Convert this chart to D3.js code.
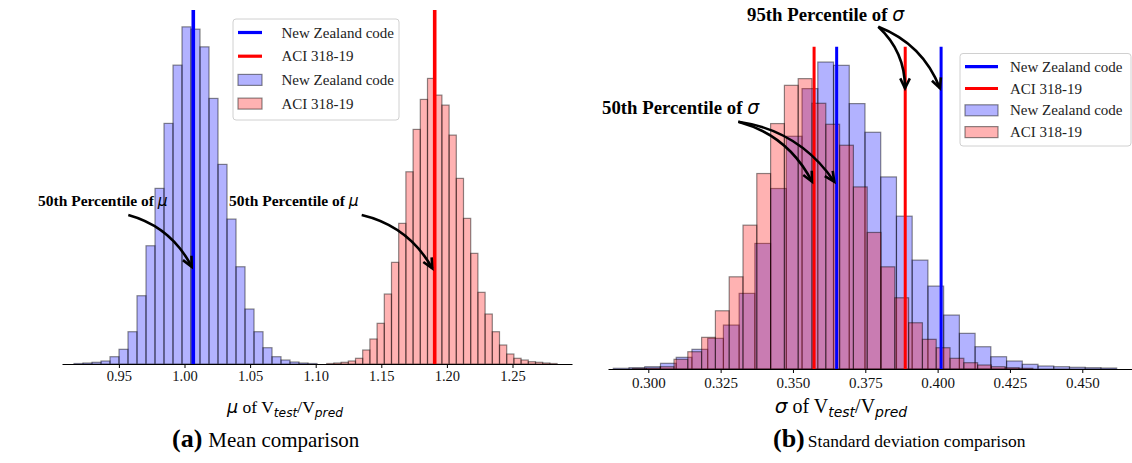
<!DOCTYPE html>
<html><head><meta charset="utf-8">
<script src="https://cdn.jsdelivr.net/npm/d3@7"></script>
<style>body{margin:0;background:#fff;} svg{display:block}</style>
</head><body>
<svg id="c" width="1132" height="463"></svg>
<script>
// ---------------- data ----------------
const seriesNames = ["New Zealand code", "ACI 318-19"];
const meanTicks = [0.95, 1.00, 1.05, 1.10, 1.15, 1.20, 1.25];
const sdTicks = [0.300, 0.325, 0.350, 0.375, 0.400, 0.425, 0.450];

// (a) mean histograms: first bin edge, bin width, counts
const meanNZStart = 0.91578, meanNZWidth = 0.006860;
const meanNZCounts = [5, 10, 17, 30, 73, 147, 323, 683, 1183, 1757, 2407, 2990, 3373, 3350, 3173, 2657, 1997, 1450, 973, 550, 323, 163, 73, 40, 20, 10, 5];
const meanACIStart = 1.10838, meanACIWidth = 0.005488;
const meanACICounts = [5, 10, 17, 30, 57, 140, 250, 407, 700, 1017, 1407, 1923, 2347, 2647, 2857, 2690, 2590, 2290, 1857, 1457, 1107, 717, 500, 323, 190, 100, 57, 40, 23, 17, 10, 5];
const meanMedians = [1.0067, 1.1907];           // NZ, ACI

// (b) standard deviation histograms
const sdNZStart = 0.28790, sdNZWidth = 0.005437;
const sdNZCounts = [7, 13, 23, 57, 117, 197, 307, 440, 757, 1257, 1807, 2330, 2807, 3073, 3040, 2657, 2370, 1923, 1530, 1090, 830, 540, 357, 223, 123, 80, 47, 30, 23, 17, 13, 10];
const sdACIStart = 0.29457, sdACIWidth = 0.004770;
const sdACICounts = [5, 10, 23, 97, 173, 317, 583, 923, 1440, 1957, 2457, 2840, 2907, 2660, 2450, 2240, 1823, 1367, 1023, 713, 463, 297, 213, 107, 63, 40, 23, 13, 7];
const sdMedians = [0.3651, 0.3573];             // NZ, ACI
const sdP95 = [0.4012, 0.3888];                 // NZ, ACI

// annotations (data coordinates)
const meanAnnots = [
  {text: "50th Percentile of ", sym: "μ", tx: 0.88834, ty: 1581, anchor: "start", from: [0.95717, 1491], to: [[1.00549, 973]]},
  {text: "50th Percentile of ", sym: "μ", tx: 1.03392, ty: 1581, anchor: "start", from: [1.13506, 1491], to: [[1.18887, 957]]}
];
const sdAnnots = [
  {text: "50th Percentile of ", sym: "σ", tx: 0.28400, ty: 2553, anchor: "start", from: [0.33111, 2476], to: [[0.35658, 1875], [0.36429, 1875]]},
  {text: "95th Percentile of ", sym: "σ", tx: 0.33411, ty: 3484, anchor: "start", from: [0.37949, 3427], to: [[0.38872, 2810], [0.40082, 2810]]}
];

// ---------------- drawing ----------------
const svg = d3.select("#c");
const SERIF = "'Liberation Serif', 'Times New Roman', serif";
const SANS = "'DejaVu Sans', sans-serif";
const blueFill = "rgba(0,0,255,0.3)", redFill = "rgba(255,0,0,0.3)";
const edge = "rgba(0,0,0,0.45)";

function bins(start, width, counts) {
  return counts.map((c, i) => ({x0: start + i * width, x1: start + (i + 1) * width, c}));
}

function drawHist(g, x, y, data, fill) {
  g.append("g").selectAll("rect").data(data).join("rect")
    .attr("x", d => x(d.x0)).attr("width", d => x(d.x1) - x(d.x0))
    .attr("y", d => y(d.c)).attr("height", d => y(0) - y(d.c))
    .attr("fill", fill).attr("stroke", edge).attr("stroke-width", 1.2);
}

function arrow(g, x1, y1, x2, y2, rad) {
  const mx = (x1 + x2) / 2, my = (y1 + y2) / 2, dx = x2 - x1, dy = y2 - y1;
  const cx = mx + rad * dy, cy = my - rad * dx;
  g.append("path").attr("d", `M${x1},${y1} Q${cx},${cy} ${x2},${y2}`)
    .attr("fill", "none").attr("stroke", "#000").attr("stroke-width", 2.6);
  const a = Math.atan2(y2 - cy, x2 - cx), L = 11, h = 0.45;
  const p1 = [x2 - L * Math.cos(a - h), y2 - L * Math.sin(a - h)];
  const p2 = [x2 - L * Math.cos(a + h), y2 - L * Math.sin(a + h)];
  g.append("path").attr("d", `M${p1[0]},${p1[1]} L${x2},${y2} L${p2[0]},${p2[1]}`)
    .attr("fill", "none").attr("stroke", "#000").attr("stroke-width", 2.6).attr("stroke-linejoin", "miter");
}

function drawAnnots(g, x, y, annots, fs) {
  annots.forEach(a => {
    const t = g.append("text").attr("x", x(a.tx)).attr("y", y(a.ty))
      .attr("text-anchor", a.anchor).attr("font-family", SERIF)
      .attr("font-weight", "bold").attr("font-size", fs).attr("fill", "#000");
    t.append("tspan").text(a.text);
    t.append("tspan").attr("font-family", SANS).attr("font-style", "italic")
      .attr("font-weight", "normal").text(a.sym);
    a.to.forEach(p => arrow(g, x(a.from[0]), y(a.from[1]), x(p[0]), y(p[1]), 0.22));
  });
}

function drawLegend(g, o) {
  g.append("rect").attr("x", o.x).attr("y", o.y).attr("width", o.w).attr("height", o.h)
    .attr("rx", 3).attr("fill", "rgba(255,255,255,0.85)").attr("stroke", "#d0d0d0").attr("stroke-width", 1);
  const items = [
    {type: "line", color: "#0000ff", name: seriesNames[0]},
    {type: "line", color: "#ff0000", name: seriesNames[1]},
    {type: "patch", color: blueFill, name: seriesNames[0]},
    {type: "patch", color: redFill, name: seriesNames[1]}
  ];
  items.forEach((it, i) => {
    const cy = o.y0 + i * o.dy;
    if (it.type === "line") {
      g.append("line").attr("x1", o.hx).attr("x2", o.hx + o.hw).attr("y1", cy).attr("y2", cy)
        .attr("stroke", it.color).attr("stroke-width", 3.2);
    } else {
      g.append("rect").attr("x", o.hx).attr("y", cy - 5.5).attr("width", o.hw).attr("height", 11)
        .attr("fill", it.color).attr("stroke", edge).attr("stroke-width", 1.2);
    }
    g.append("text").attr("x", o.tx).attr("y", cy + 5).attr("font-family", SERIF)
      .attr("font-size", 15).attr("fill", "#222").text(it.name);
  });
}

function axisLabel(g, cx, by, sym, fs) {
  const t = g.append("text").attr("x", cx).attr("y", by).attr("text-anchor", "middle")
    .attr("font-family", SERIF).attr("font-size", fs).attr("fill", "#000");
  t.append("tspan").attr("font-family", SANS).attr("font-style", "italic").text(sym);
  t.append("tspan").text(" of V");
  t.append("tspan").attr("font-family", SANS).attr("font-style", "italic")
    .attr("font-size", fs * 0.7).attr("dy", fs * 0.22).text("test");
  t.append("tspan").attr("dy", -fs * 0.22).text("/V");
  t.append("tspan").attr("font-family", SANS).attr("font-style", "italic")
    .attr("font-size", fs * 0.7).attr("dy", fs * 0.22).text("pred");
}

function caption(g, x, y, tag, tagFs, txt, txtFs, gap) {
  const t = g.append("text").attr("x", x).attr("y", y).attr("font-family", SERIF).attr("fill", "#000");
  t.append("tspan").attr("font-weight", "bold").attr("font-size", tagFs).text(tag);
  t.append("tspan").attr("font-size", txtFs).attr("dx", gap).text(txt);
}

function styleAxis(ax, fs) {
  ax.select(".domain").attr("stroke", "#000").attr("stroke-width", 1.1);
  ax.selectAll(".tick line").attr("stroke", "#000").attr("stroke-width", 1);
  ax.selectAll(".tick text").attr("font-family", SERIF).attr("font-size", fs).attr("fill", "#111");
}

// ---- panel (a) ----
{
  const g = svg.append("g");
  const x = d3.scaleLinear().domain([0.90663, 1.29535]).range([62, 572]);
  const yMax = d3.max(meanNZCounts.concat(meanACICounts)) * 1.05;
  const y = d3.scaleLinear().domain([0, yMax]).range([364, 10]);
  drawHist(g, x, y, bins(meanNZStart, meanNZWidth, meanNZCounts), blueFill);
  drawHist(g, x, y, bins(meanACIStart, meanACIWidth, meanACICounts), redFill);
  ["#0000ff", "#ff0000"].forEach((c, i) => {
    g.append("line").attr("x1", x(meanMedians[i])).attr("x2", x(meanMedians[i]))
      .attr("y1", y(yMax)).attr("y2", y(0)).attr("stroke", c).attr("stroke-width", 3.6);
  });
  const ax = g.append("g").attr("transform", "translate(0,364)")
    .call(d3.axisBottom(x).tickValues(meanTicks).tickFormat(d3.format(".2f")).tickSize(4).tickSizeOuter(0).tickPadding(3));
  styleAxis(ax, 14.5);
  drawLegend(g, {x: 233, y: 19, w: 166, h: 101, y0: 32.5, dy: 23.7, hx: 238, hw: 24, tx: 281.5});
  drawAnnots(g, x, y, meanAnnots, 15.5);
  axisLabel(g, 285, 413, "μ", 17.5);
  caption(g, 172, 447, "(a)", 26, "Mean comparison", 21, 6);
}

// ---- panel (b) ----
{
  const g = svg.append("g");
  const x = d3.scaleLinear().domain([0.28607, 0.46718]).range([608, 1132]);
  const yMax = d3.max(sdNZCounts.concat(sdACICounts)) * 1.05;
  const y = d3.scaleLinear().domain([0, yMax]).range([369, 46.7]);
  drawHist(g, x, y, bins(sdNZStart, sdNZWidth, sdNZCounts), blueFill);
  drawHist(g, x, y, bins(sdACIStart, sdACIWidth, sdACICounts), redFill);
  const cols = ["#0000ff", "#ff0000"];
  [sdMedians, sdP95].forEach(arr => arr.forEach((v, i) => {
    g.append("line").attr("x1", x(v)).attr("x2", x(v)).attr("y1", y(yMax)).attr("y2", y(0))
      .attr("stroke", cols[i]).attr("stroke-width", 3);
  }));
  const ax = g.append("g").attr("transform", "translate(0,369)")
    .call(d3.axisBottom(x).tickValues(sdTicks).tickFormat(d3.format(".3f")).tickSize(4).tickSizeOuter(0).tickPadding(4));
  styleAxis(ax, 15);
  drawLegend(g, {x: 960, y: 53.5, w: 171, h: 92.5, y0: 66.7, dy: 21.8, hx: 965, hw: 33, tx: 1010});
  drawAnnots(g, x, y, sdAnnots, 18.8);
  axisLabel(g, 841, 413, "σ", 20);
  caption(g, 773, 447, "(b)", 26, "Standard deviation comparison", 17.5, 3);
}
</script>
</body></html>
